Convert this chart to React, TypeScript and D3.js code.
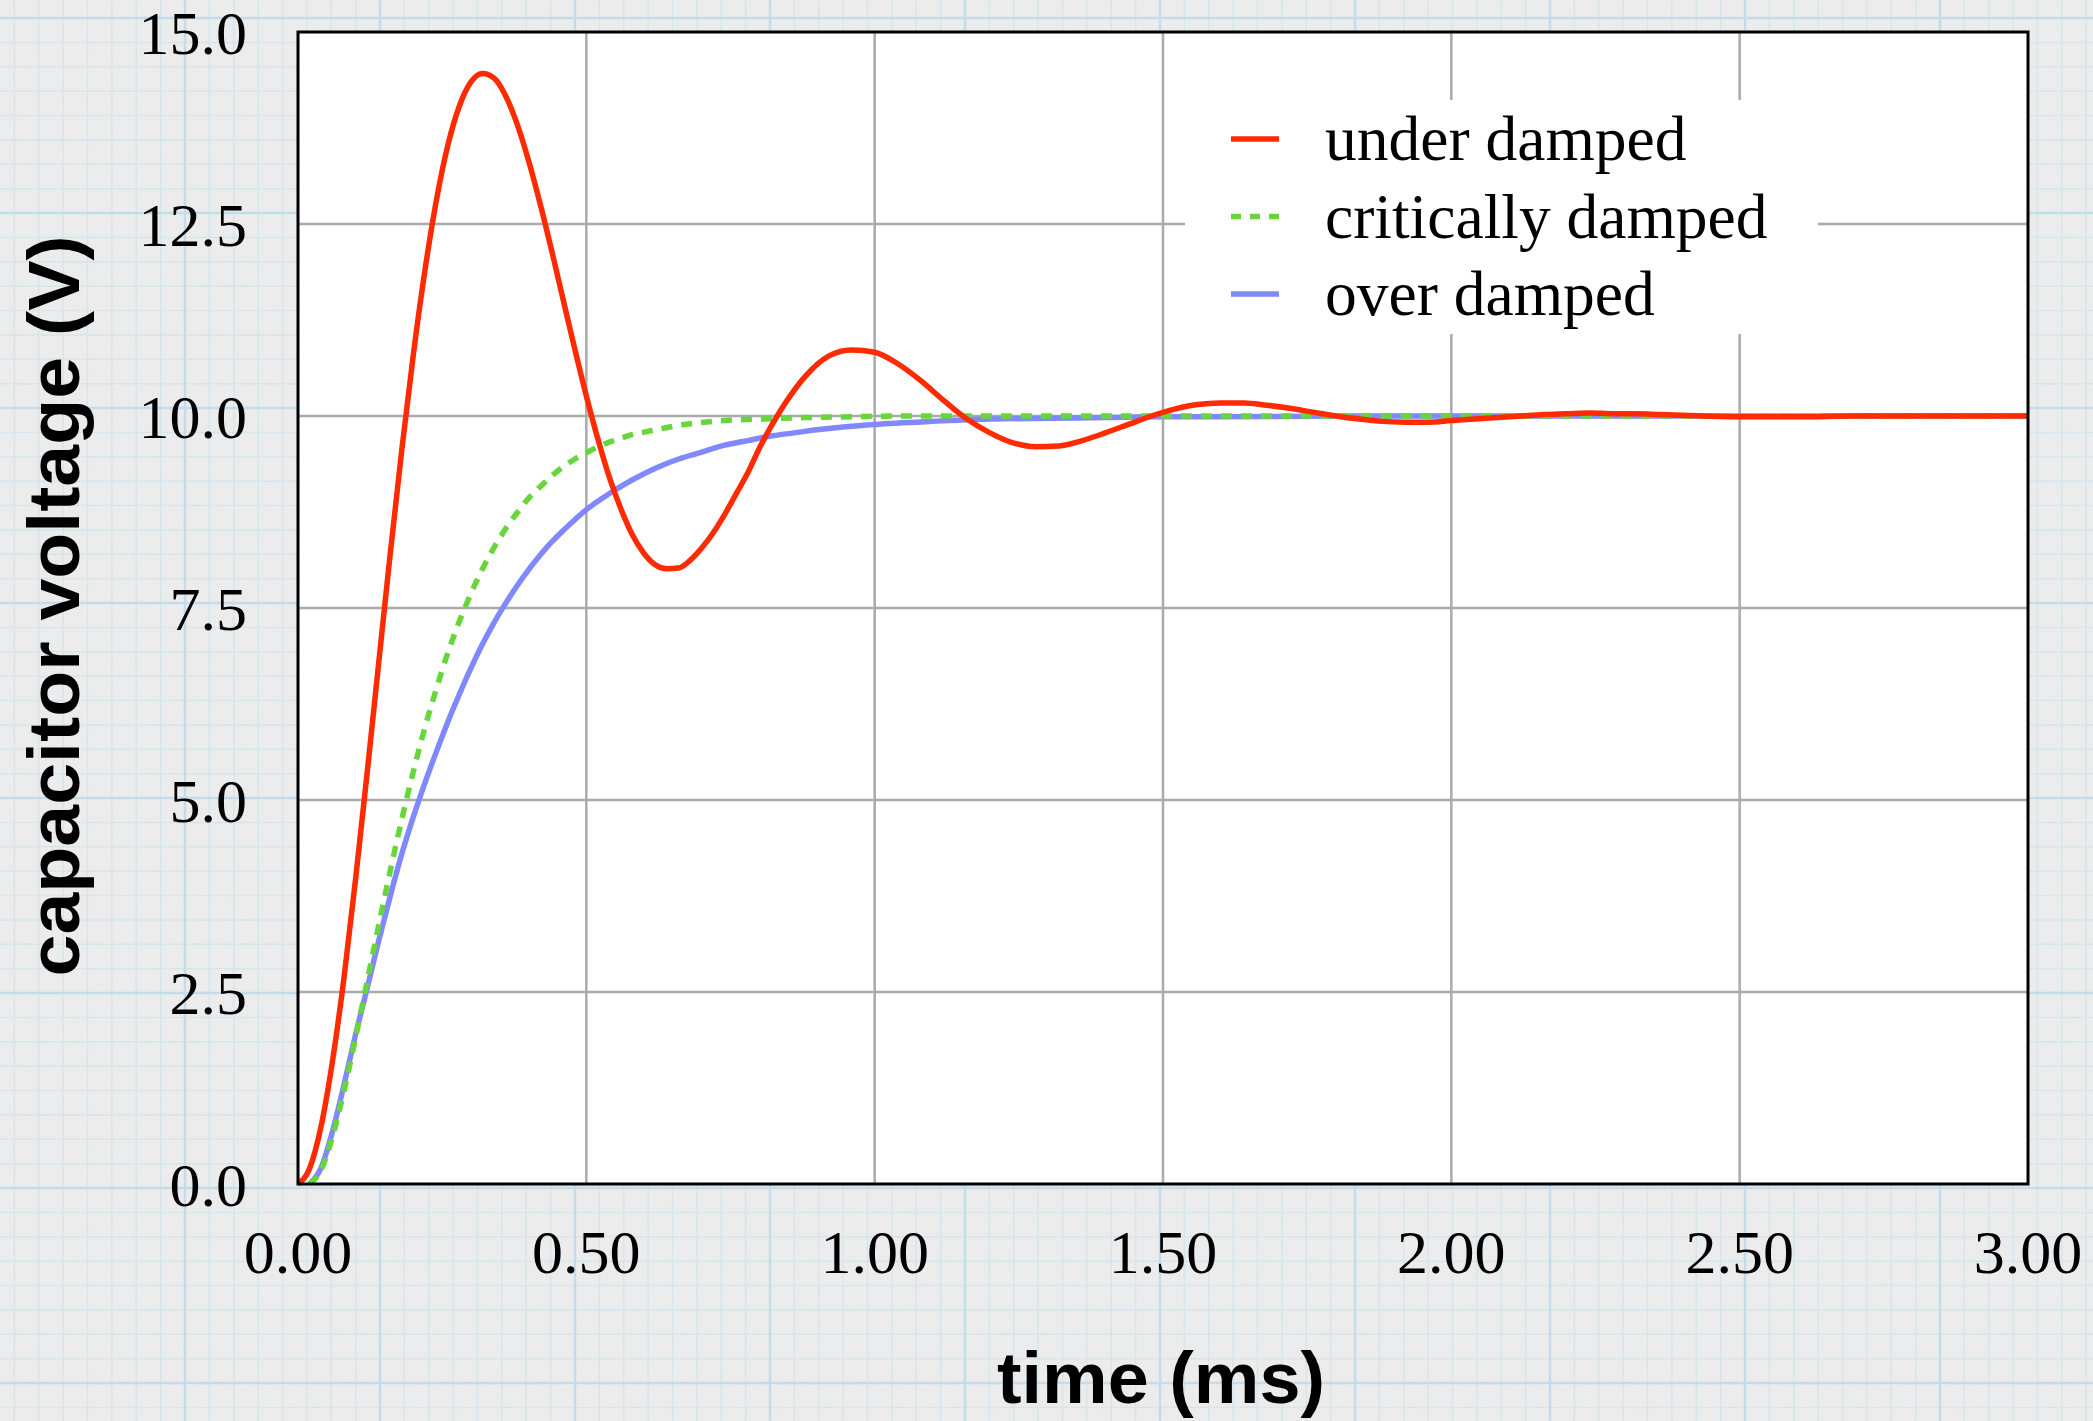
import React from "react";
import * as d3 from "d3";

// ---- data ----
const xTicks = [0, 0.5, 1.0, 1.5, 2.0, 2.5, 3.0];
const xTickLabels = ["0.00", "0.50", "1.00", "1.50", "2.00", "2.50", "3.00"];
const yTicks = [0, 2.5, 5, 7.5, 10, 12.5, 15];
const yTickLabels = ["0.0", "2.5", "5.0", "7.5", "10.0", "12.5", "15.0"];

const seriesNames = ["under damped", "critically damped", "over damped"];

const underT = [
  0, 0.02, 0.04, 0.06, 0.08, 0.1, 0.12, 0.14, 0.16, 0.18, 0.2, 0.22, 0.24, 0.26, 0.28, 0.3, 0.32, 0.34, 0.36, 0.38,
  0.4, 0.42, 0.44, 0.46, 0.48, 0.5, 0.52, 0.54, 0.56, 0.58, 0.6, 0.62, 0.64, 0.66, 0.68, 0.7, 0.72, 0.74, 0.76, 0.78,
  0.8, 0.84, 0.88, 0.92, 0.96, 1.0, 1.04, 1.08, 1.12, 1.16, 1.2, 1.24, 1.28, 1.32, 1.36, 1.4, 1.44, 1.48, 1.52, 1.56,
  1.6, 1.64, 1.68, 1.72, 1.76, 1.8, 1.84, 1.88, 1.92, 1.96, 2.0, 2.04, 2.08, 2.12, 2.16, 2.2, 2.24, 2.28, 2.32, 2.36,
  2.4, 2.5, 2.6, 2.7, 2.8, 2.9, 3.0,
];
const underV = [
  0, 0.2, 0.75, 1.61, 2.7, 3.98, 5.36, 6.79, 8.21, 9.56, 10.8, 11.89, 12.81, 13.53, 14.04, 14.35, 14.46, 14.4, 14.17, 13.8,
  13.32, 12.76, 12.15, 11.51, 10.87, 10.26, 9.7, 9.2, 8.79, 8.45, 8.21, 8.06, 8.01, 8.02, 8.12, 8.28, 8.48, 8.72, 8.99, 9.26,
  9.58, 10.11, 10.52, 10.78, 10.86, 10.83, 10.68, 10.46, 10.2, 9.96, 9.78, 9.65, 9.6, 9.61, 9.68, 9.78, 9.89, 10.0, 10.09, 10.15,
  10.17, 10.17, 10.14, 10.1, 10.05, 10.0, 9.96, 9.93, 9.92, 9.92, 9.94, 9.96, 9.98, 10.0, 10.02, 10.03, 10.04, 10.03, 10.03, 10.02,
  10.01, 9.99, 9.99, 10.0, 10.0, 10.0, 10.0,
];

const critT = [
  0.02, 0.04, 0.06, 0.08, 0.1, 0.12, 0.14, 0.16, 0.18, 0.2, 0.22, 0.24, 0.26, 0.28, 0.3, 0.32, 0.34, 0.36, 0.38, 0.4,
  0.42, 0.44, 0.46, 0.48, 0.5, 0.52, 0.54, 0.56, 0.58, 0.6, 0.64, 0.68, 0.72, 0.76, 0.8, 0.88, 0.96, 1.04, 1.2, 1.5,
  2.0, 2.5, 3.0,
];
const critV = [
  0, 0.18, 0.62, 1.22, 1.91, 2.64, 3.37, 4.08, 4.75, 5.37, 5.94, 6.45, 6.92, 7.33, 7.69, 8.01, 8.29, 8.53, 8.74, 8.93,
  9.08, 9.22, 9.34, 9.44, 9.52, 9.6, 9.66, 9.71, 9.76, 9.79, 9.85, 9.9, 9.93, 9.95, 9.96, 9.98, 9.99, 10.0, 10.0, 10.0,
  10.0, 10.0, 10.0,
];

const overT = [
  0.02, 0.04, 0.06, 0.08, 0.1, 0.12, 0.14, 0.16, 0.18, 0.2, 0.22, 0.24, 0.26, 0.28, 0.3, 0.32, 0.34, 0.36, 0.38, 0.4,
  0.42, 0.44, 0.46, 0.48, 0.5, 0.54, 0.58, 0.62, 0.66, 0.7, 0.74, 0.78, 0.82, 0.86, 0.9, 0.95, 1.0, 1.1, 1.2, 1.3,
  1.4, 1.5, 1.6, 1.8, 2.0, 2.5, 3.0,
];
const overV = [
  0, 0.21, 0.69, 1.3, 1.95, 2.55, 3.17, 3.75, 4.3, 4.78, 5.22, 5.63, 6.02, 6.38, 6.72, 7.03, 7.31, 7.56, 7.79, 8.0,
  8.19, 8.36, 8.51, 8.65, 8.78, 8.99, 9.17, 9.32, 9.44, 9.53, 9.62, 9.68, 9.74, 9.78, 9.82, 9.86, 9.89, 9.93, 9.96, 9.97,
  9.98, 9.99, 9.99, 10.0, 10.0, 10.0, 10.0,
];

// ---- layout ----
const W = 2093;
const H = 1421;
const PL = 298, PR = 2028, PT = 32, PB = 1184;

const RED = "#ff2a00";
const GREEN = "#66d63a";
const BLUE = "#8088ff";

export default function App() {
  const x = d3.scaleLinear().domain([0, 3]).range([PL, PR]);
  const y = d3.scaleLinear().domain([0, 15]).range([PB, PT]);
  const line = d3
    .line<[number, number]>()
    .x((d) => x(d[0]))
    .y((d) => y(d[1]))
    .curve(d3.curveMonotoneX);

  const zip = (t: number[], v: number[]) => t.map((tt, i) => [tt, v[i]] as [number, number]);
  const under = zip(underT, underV);
  const crit = zip(critT, critV);
  const over = zip(overT, overV);

  // graph-paper background (decoration)
  const major = 195;
  const minor = major / 8;
  const vMinor = d3.range(185 - major * 2, W + major, minor);
  const hMinor = d3.range(18 - major, H + major, minor);
  const vMajor = d3.range(185 - major, W + major, major);
  const hMajor = d3.range(18 - major, H + major, major);

  const serif = "'Liberation Serif', 'Times New Roman', Times, serif";
  const sans = "'Liberation Sans', Arial, Helvetica, sans-serif";

  const legendRows = [
    { name: seriesNames[0], color: RED, dash: undefined as string | undefined },
    { name: seriesNames[1], color: GREEN, dash: "10 9" },
    { name: seriesNames[2], color: BLUE, dash: undefined },
  ];

  return (
    <div style={{ position: "absolute", left: 0, top: 0 }}>
      <svg width={W} height={H} viewBox={`0 0 ${W} ${H}`} style={{ display: "block" }}>
        <defs>
          <filter id="noise" x="0" y="0" width="100%" height="100%">
            <feTurbulence type="fractalNoise" baseFrequency="0.8" numOctaves="2" seed="3" />
            <feColorMatrix type="matrix" values="0 0 0 0 0.5  0 0 0 0 0.5  0 0 0 0 0.5  0 0 0 0.9 0" />
          </filter>
        </defs>
        <rect x={0} y={0} width={W} height={H} fill="#eeeeee" />
        <rect x={0} y={0} width={W} height={H} filter="url(#noise)" opacity={0.1} />
        <g>
          {vMinor.map((v, i) => (
            <line key={"vm" + i} x1={v} x2={v} y1={0} y2={H} stroke="#d5e5ee" strokeWidth={1.5} />
          ))}
          {hMinor.map((v, i) => (
            <line key={"hm" + i} x1={0} x2={W} y1={v} y2={v} stroke="#d5e5ee" strokeWidth={1.5} />
          ))}
          {vMajor.map((v, i) => (
            <line key={"vM" + i} x1={v} x2={v} y1={0} y2={H} stroke="#c2dcea" strokeWidth={2.5} />
          ))}
          {hMajor.map((v, i) => (
            <line key={"hM" + i} x1={0} x2={W} y1={v} y2={v} stroke="#c2dcea" strokeWidth={2.5} />
          ))}
        </g>

        {/* plot area */}
        <rect x={PL} y={PT} width={PR - PL} height={PB - PT} fill="#ffffff" />
        <g>
          {xTicks.slice(1, -1).map((t) => (
            <line key={"gx" + t} x1={x(t)} x2={x(t)} y1={PT} y2={PB} stroke="#aaaaaa" strokeWidth={2.5} />
          ))}
          {yTicks.slice(1, -1).map((v) => (
            <line key={"gy" + v} x1={PL} x2={PR} y1={y(v)} y2={y(v)} stroke="#aaaaaa" strokeWidth={2.5} />
          ))}
        </g>

        {/* legend box */}
        <rect x={1185} y={100} width={633} height={234} fill="#ffffff" />
        {legendRows.map((r, i) => {
          const cy = 139 + i * 77.5;
          return (
            <g key={r.name}>
              <line
                x1={1231}
                x2={1279}
                y1={cy}
                y2={cy}
                stroke={r.color}
                strokeWidth={5.5}
                strokeDasharray={r.dash}
              />
              <text x={1325} y={cy + 21} fontFamily={serif} fontSize={63.5} fill="#000">
                {r.name}
              </text>
            </g>
          );
        })}

        {/* curves */}
        <path d={line(over) || ""} fill="none" stroke={BLUE} strokeWidth={5.5} strokeLinejoin="round" />
        <path
          d={line(crit) || ""}
          fill="none"
          stroke={GREEN}
          strokeWidth={5.5}
          strokeDasharray="11 9"
        />
        <path d={line(under) || ""} fill="none" stroke={RED} strokeWidth={5.5} strokeLinejoin="round" />

        {/* frame */}
        <rect x={PL} y={PT} width={PR - PL} height={PB - PT} fill="none" stroke="#000" strokeWidth={3} />

        {/* tick labels */}
        {yTicks.map((v, i) => (
          <text
            key={"yl" + v}
            x={247}
            y={y(v) + 22}
            textAnchor="end"
            fontFamily={serif}
            fontSize={62}
            fill="#000"
          >
            {yTickLabels[i]}
          </text>
        ))}
        {xTicks.map((t, i) => (
          <text
            key={"xl" + t}
            x={x(t)}
            y={1273}
            textAnchor="middle"
            fontFamily={serif}
            fontSize={62}
            fill="#000"
          >
            {xTickLabels[i]}
          </text>
        ))}

        {/* axis titles */}
        <text
          x={1161}
          y={1403}
          textAnchor="middle"
          fontFamily={sans}
          fontWeight="bold"
          fontSize={72}
          fill="#000"
          textLength={328}
          lengthAdjust="spacingAndGlyphs"
        >
          time (ms)
        </text>
        <text
          transform={`translate(79, 606) rotate(-90)`}
          textAnchor="middle"
          fontFamily={sans}
          fontWeight="bold"
          fontSize={72}
          fill="#000"
          textLength={741}
          lengthAdjust="spacingAndGlyphs"
        >
          capacitor voltage (V)
        </text>
      </svg>
    </div>
  );
}
